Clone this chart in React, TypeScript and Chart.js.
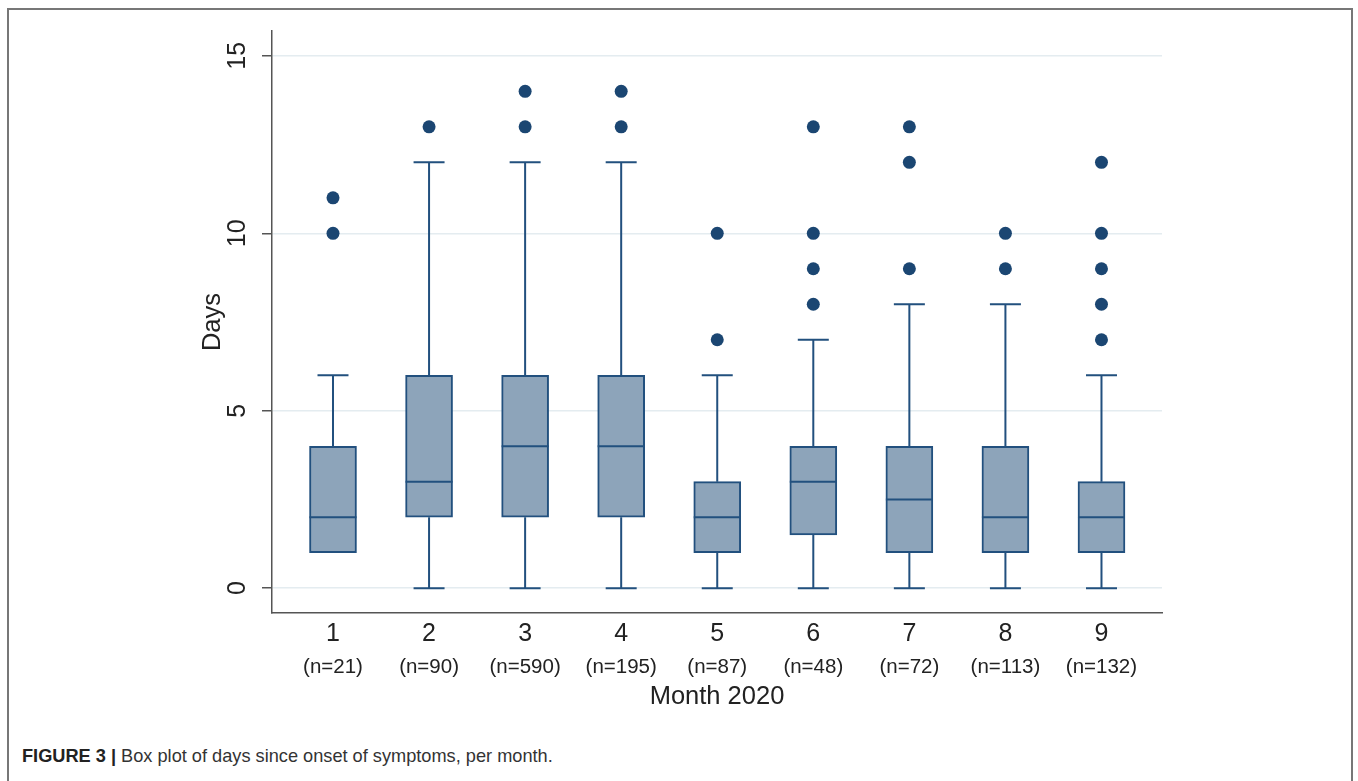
import React, { useEffect, useRef } from "react";
import { Chart, registerables } from "chart.js";

Chart.register(...registerables);

const months = ["1", "2", "3", "4", "5", "6", "7", "8", "9"];
const nLabels = ["(n=21)", "(n=90)", "(n=590)", "(n=195)", "(n=87)", "(n=48)", "(n=72)", "(n=113)", "(n=132)"];
const whiskerLow = [1, 0, 0, 0, 0, 0, 0, 0, 0];
const q1 = [1, 2, 2, 2, 1, 1.5, 1, 1, 1];
const median = [2, 3, 4, 4, 2, 3, 2.5, 2, 2];
const q3 = [4, 6, 6, 6, 3, 4, 4, 4, 3];
const whiskerHigh = [6, 12, 12, 12, 6, 7, 8, 8, 6];
const outliers = [
  [10, 11],
  [13],
  [13, 14],
  [13, 14],
  [7, 10],
  [8, 9, 10, 13],
  [9, 12, 13],
  [9, 10],
  [7, 8, 9, 10, 12],
];
const yTicks = [0, 5, 10, 15];

const BOX_FILL = "#8da4ba";
const BOX_LINE = "#22507e";
const DOT = "#1b4672";
const FONT = "'Liberation Sans', Arial, sans-serif";

function noPad(s: any) {
  s.paddingTop = 0;
  s.paddingBottom = 0;
  s.paddingLeft = 0;
  s.paddingRight = 0;
}

export default function App() {
  const ref = useRef<HTMLCanvasElement | null>(null);

  useEffect(() => {
    if (!ref.current) return;
    const positions = months.map((_, i) => i + 1);

    const whiskerPlugin = {
      id: "whiskers",
      beforeDatasetsDraw(chart: any) {
        const { ctx } = chart;
        const xs = chart.scales.x;
        const ys = chart.scales.y;
        ctx.save();
        ctx.strokeStyle = BOX_LINE;
        ctx.lineWidth = 2;
        positions.forEach((p, i) => {
          const x = xs.getPixelForValue(p);
          const capHalf = 15.5;
          const segs = [
            [q3[i], whiskerHigh[i]],
            [q1[i], whiskerLow[i]],
          ];
          segs.forEach(([a, b]) => {
            if (a === b) return;
            const ya = ys.getPixelForValue(a);
            const yb = ys.getPixelForValue(b);
            ctx.beginPath();
            ctx.moveTo(x, ya);
            ctx.lineTo(x, yb);
            ctx.moveTo(x - capHalf, yb);
            ctx.lineTo(x + capHalf, yb);
            ctx.stroke();
          });
        });
        ctx.restore();
      },
      afterDatasetsDraw(chart: any) {
        const { ctx } = chart;
        const xs = chart.scales.x;
        const ys = chart.scales.y;
        ctx.save();
        ctx.strokeStyle = BOX_LINE;
        ctx.lineWidth = 2;
        positions.forEach((p, i) => {
          const x = xs.getPixelForValue(p);
          const y = ys.getPixelForValue(median[i]);
          ctx.beginPath();
          ctx.moveTo(x - 23.5, y);
          ctx.lineTo(x + 23.5, y);
          ctx.stroke();
        });
        ctx.restore();
      },
    };

    const outlierPoints: { x: number; y: number }[] = [];
    outliers.forEach((arr, i) => arr.forEach((v) => outlierPoints.push({ x: i + 1, y: v })));

    const chart = new Chart(ref.current, {
      type: "bar",
      data: {
        datasets: [
          {
            type: "bar",
            data: positions.map((p, i) => ({ x: p, y: [q1[i], q3[i]] })) as any,
            backgroundColor: BOX_FILL,
            borderColor: BOX_LINE,
            borderWidth: 2,
            borderSkipped: false,
            barThickness: 47,
            xAxisID: "x",
            yAxisID: "y",
          } as any,
          {
            type: "scatter",
            data: outlierPoints,
            backgroundColor: DOT,
            borderColor: DOT,
            pointRadius: 6.5,
            pointBorderWidth: 0,
            xAxisID: "x",
            yAxisID: "y",
          } as any,
        ],
      },
      options: {
        animation: false,
        responsive: true,
        maintainAspectRatio: false,
        layout: { padding: { left: 0, right: 38, top: 11, bottom: 0 } },
        plugins: { legend: { display: false }, tooltip: { enabled: false } },
        scales: {
          x: {
            type: "linear",
            position: "bottom",
            weight: 0,
            min: 0.365,
            max: 9.63,
            offset: false,
            afterBuildTicks: (s: any) => {
              s.ticks = positions.map((v) => ({ value: v }));
            },
            afterFit: (s: any) => {
              s.height = 40;
              noPad(s);
            },
            grid: { display: true, drawOnChartArea: false, drawTicks: false },
            border: { display: true, color: "#555", width: 1.5 },
            ticks: {
              padding: 6,
              autoSkip: false,
              maxRotation: 0,
              minRotation: 0,
              color: "#222",
              font: { family: FONT, size: 25 },
              callback: (v: any) => months[Math.round(Number(v)) - 1] ?? "",
            },
          },
          x2: {
            type: "linear",
            position: "bottom",
            weight: 1,
            min: 0.365,
            max: 9.63,
            offset: false,
            afterBuildTicks: (s: any) => {
              s.ticks = positions.map((v) => ({ value: v }));
            },
            afterFit: (s: any) => {
              s.height = 67;
              noPad(s);
            },
            grid: { display: false, drawTicks: false },
            border: { display: false },
            ticks: {
              padding: 2,
              autoSkip: false,
              maxRotation: 0,
              minRotation: 0,
              color: "#222",
              font: { family: FONT, size: 20.5 },
              callback: (v: any) => nLabels[Math.round(Number(v)) - 1] ?? "",
            },
            title: {
              display: true,
              text: "Month 2020",
              color: "#222",
              font: { family: FONT, size: 25.5 },
              padding: { top: 0, bottom: 8 },
            },
          },
          y: {
            type: "linear",
            position: "left",
            min: -0.7,
            max: 15.7,
            afterBuildTicks: (s: any) => {
              s.ticks = yTicks.map((v) => ({ value: v }));
            },
            afterFit: (s: any) => {
              s.width = 122;
              noPad(s);
            },
            grid: {
              display: true,
              color: "#e4ecf0",
              lineWidth: 1.5,
              drawTicks: true,
              tickLength: 10,
              tickColor: "#555",
            },
            border: { display: true, color: "#555", width: 1.5 },
            ticks: {
              padding: 10,
              minRotation: 90,
              maxRotation: 90,
              crossAlign: "center",
              color: "#222",
              font: { family: FONT, size: 25 },
              callback: (v: any) => String(v),
            },
            title: {
              display: true,
              text: "Days",
              color: "#222",
              font: { family: FONT, size: 25.5 },
              padding: { top: 48, bottom: 0 },
            },
          },
        },
      } as any,
      plugins: [whiskerPlugin],
    });
    return () => chart.destroy();
  }, []);

  return (
    <div>
      <div
        style={{
          position: "absolute",
          left: 7,
          top: 8,
          width: 1346,
          height: 790,
          borderTop: "2px solid #777",
          borderLeft: "2px solid #777",
          borderRight: "2px solid #777",
          boxSizing: "border-box",
        }}
      />
      <div style={{ position: "absolute", left: 150, top: 20, width: 1050, height: 700 }}>
        <canvas ref={ref} />
      </div>
      <div
        style={{
          position: "absolute",
          left: 22,
          top: 746,
          fontFamily: FONT,
          fontSize: 18.2,
          color: "#333",
          whiteSpace: "nowrap",
        }}
      >
        <span style={{ fontWeight: "bold", color: "#222" }}>FIGURE 3 |</span> Box plot of days since onset of symptoms, per month.
      </div>
    </div>
  );
}
